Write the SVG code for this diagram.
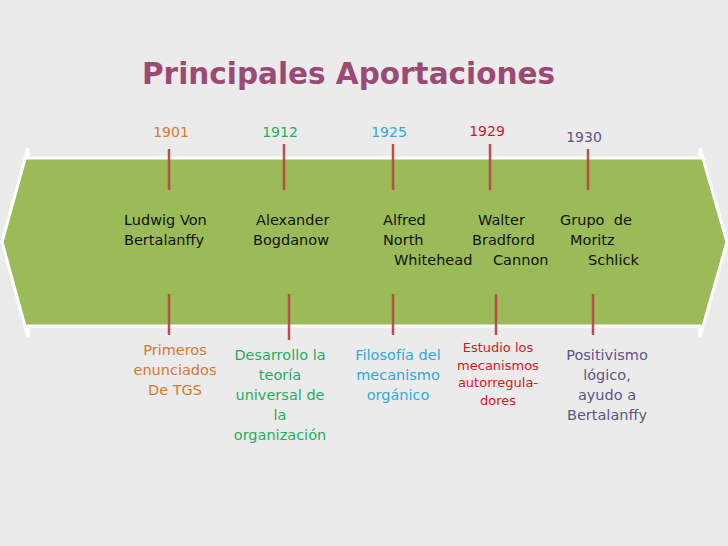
<svg xmlns="http://www.w3.org/2000/svg" width="728" height="546" viewBox="0 0 728 546">
<style>
text{font-family:"DejaVu Sans","Liberation Sans",sans-serif;white-space:pre}
.title{font-size:29.5px;font-weight:bold;fill:#9B4A73}
.yr{font-size:14px;text-anchor:middle}
.nm{font-size:14.5px;fill:#111}
.ds{font-size:14.5px;text-anchor:middle}
.tick{stroke:#BA4E48;stroke-width:2.5;fill:none}
</style>
<rect width="728" height="546" fill="#EBEBEB"/>
<text class="title" x="142" y="84">Principales Aportaciones</text>
<polygon id="band" points="2,242 28,148 28,158 700,158 700,148 727,242 700,337 700,326 28,326 28,337" fill="#9BBB59" stroke="#FFFFFF" stroke-width="3" stroke-linejoin="miter"/>
<g id="connectors">
<line class="tick" x1="169" y1="149" x2="169" y2="190"/>
<line class="tick" x1="284" y1="144" x2="284" y2="190"/>
<line class="tick" x1="393" y1="144" x2="393" y2="190"/>
<line class="tick" x1="490" y1="144" x2="490" y2="190"/>
<line class="tick" x1="588" y1="149" x2="588" y2="190"/>
<line class="tick" x1="169" y1="294" x2="169" y2="335"/>
<line class="tick" x1="289" y1="294" x2="289" y2="340"/>
<line class="tick" x1="393" y1="294" x2="393" y2="335"/>
<line class="tick" x1="496" y1="294" x2="496" y2="335"/>
<line class="tick" x1="593" y1="294" x2="593" y2="335"/>
</g>
<g id="n1901">
<text class="yr" x="171" y="137" fill="#D9772F">1901</text>
<text class="nm"><tspan x="124" y="225">Ludwig Von</tspan><tspan x="124" y="245">Bertalanffy</tspan></text>
<text class="ds" fill="#D9772F"><tspan x="175" y="355">Primeros</tspan><tspan x="175" y="375">enunciados</tspan><tspan x="175" y="395">De TGS</tspan></text>
</g>
<g id="n1912">
<text class="yr" x="280" y="137" fill="#1FAE5F">1912</text>
<text class="nm"><tspan x="256" y="225">Alexander</tspan><tspan x="253" y="245">Bogdanow</tspan></text>
<text class="ds" fill="#1FAE5F"><tspan x="280" y="360">Desarrollo la</tspan><tspan x="280" y="380">teoría</tspan><tspan x="280" y="400">universal de</tspan><tspan x="280" y="420">la</tspan><tspan x="280" y="440">organización</tspan></text>
</g>
<g id="n1925">
<text class="yr" x="389" y="137" fill="#2FA9DA">1925</text>
<text class="nm"><tspan x="383" y="225">Alfred</tspan><tspan x="383" y="245">North</tspan><tspan x="394" y="265">Whitehead</tspan></text>
<text class="ds" fill="#2FA9DA"><tspan x="398" y="360">Filosofía del</tspan><tspan x="398" y="380">mecanismo</tspan><tspan x="398" y="400">orgánico</tspan></text>
</g>
<g id="n1929">
<text class="yr" x="487" y="136" fill="#D8161D">1929</text>
<text class="nm"><tspan x="478" y="225">Walter</tspan><tspan x="472" y="245">Bradford</tspan><tspan x="493" y="265">Cannon</tspan></text>
<text class="ds" style="font-size:13px" fill="#D8161D"><tspan x="498" y="352">Estudio los</tspan><tspan x="498" y="370">mecanismos</tspan><tspan x="498" y="387">autorregula-</tspan><tspan x="498" y="405">dores</tspan></text>
</g>
<g id="n1930">
<text class="yr" x="584" y="142" fill="#5F5486">1930</text>
<text class="nm"><tspan x="560" y="225">Grupo  de</tspan><tspan x="570" y="245">Moritz</tspan><tspan x="588" y="265">Schlick</tspan></text>
<text class="ds" fill="#5F5486"><tspan x="607" y="360">Positivismo</tspan><tspan x="607" y="380">lógico,</tspan><tspan x="607" y="400">ayudo a</tspan><tspan x="607" y="420">Bertalanffy</tspan></text>
</g>
</svg>
